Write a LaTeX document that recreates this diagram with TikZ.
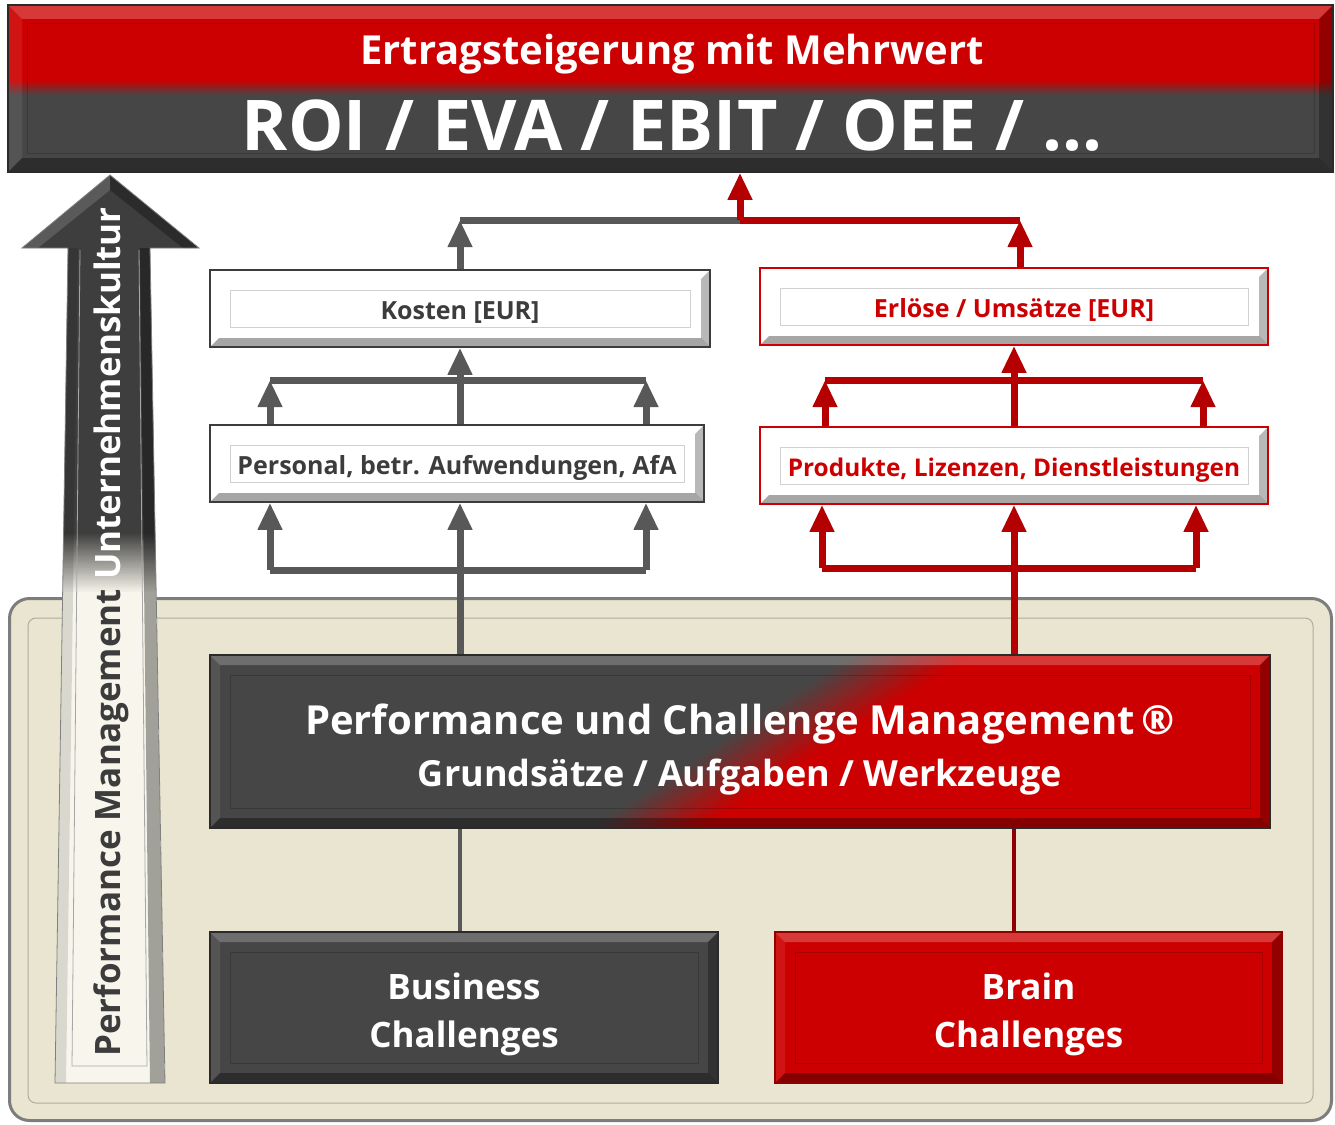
\documentclass[tikz,border=0pt]{standalone}
\usepackage{fontspec}
\setmainfont{Open Sans}
\usetikzlibrary{arrows.meta,calc}
\definecolor{rd}{RGB}{204,0,0}
\definecolor{dg}{RGB}{70,70,70}
\definecolor{beige}{RGB}{234,229,208}
\definecolor{txg}{RGB}{60,60,60}
\definecolor{cg}{RGB}{88,88,88}
\definecolor{cr}{RGB}{180,0,0}
\definecolor{adark}{RGB}{62,62,62}
\definecolor{acream}{RGB}{248,246,236}
\definecolor{pborder}{RGB}{125,125,125}
\newcommand\bvlayer[2]{%
\path (path picture bounding box.north west) coordinate (q1)
      (path picture bounding box.north east) coordinate (q2)
      (path picture bounding box.south east) coordinate (q3)
      (path picture bounding box.south west) coordinate (q4);
\fill[white,opacity=.22] (q1) -- (q2) -- ([shift={(-#1pt,-#1pt)}]q2) -- ([shift={(#1pt,-#1pt)}]q1) -- cycle;
\fill[white,opacity=.08] (q1) -- (q4) -- ([shift={(#1pt,#1pt)}]q4) -- ([shift={(#1pt,-#1pt)}]q1) -- cycle;
\fill[black,opacity=.35] (q4) -- (q3) -- ([shift={(-#1pt,#1pt)}]q3) -- ([shift={(#1pt,#1pt)}]q4) -- cycle;
\fill[black,opacity=.28] (q2) -- (q3) -- ([shift={(-#1pt,#1pt)}]q3) -- ([shift={(-#1pt,-#1pt)}]q2) -- cycle;
\draw[black,opacity=.18,line width=1pt] ([shift={(#2pt,-#2pt)}]q1) rectangle ([shift={(-#2pt,#2pt)}]q3);
}
\begin{document}
\begin{tikzpicture}[x=1pt,y=-1pt,
 wbox/.style={draw=txg, fill=white, line width=1.5pt, inner sep=0pt, text height=23pt, text depth=2pt,
   font=\bfseries\fontsize{25}{28}\selectfont, text=txg, path picture={\bvlayer{9}{20}}},
 wrbox/.style={wbox, draw=rd, text=rd},
 dbox/.style={draw=dg!60!black, fill=dg, line width=1.5pt, inner sep=0pt, align=center,
   text=white, font=\bfseries\fontsize{35}{48}\selectfont, path picture={\bvlayer{10}{20}}},
 rbox/.style={dbox, draw=rd!70!black, fill=rd},
 garr/.style={draw=cg, line width=7pt, -{Triangle[width=23pt,length=27pt]}},
 rarr/.style={garr, draw=cr},
 gbar/.style={draw=cg, line width=7pt, line cap=square},
 rbar/.style={gbar, draw=cr},
 gthin/.style={draw=cg, line width=4pt},
 rthin/.style={draw=cr!80!black, line width=4pt}
]
\useasboundingbox (0,0) rectangle (1335,1124);
\fill[white] (0,0) rectangle (1335,1124);

% background panel
\node[draw=pborder, line width=3pt, fill=beige, rounded corners=20pt,
  minimum width=1322pt, minimum height=522pt, inner sep=0pt] (panel) at (670.5,859.5) {};
\draw[beige!75!black, line width=1pt, rounded corners=8pt] (28,618) rectangle (1313,1103);

% banner (path picture coordinates are relative to the node centre)
\node[draw=dg!60!black, line width=1.5pt, minimum width=1325pt, minimum height=167pt, inner sep=0pt,
 path picture={
   \fill[rd] (-700,-100) rectangle (700,-8.5);
   \fill[dg] (-700,7.5) rectangle (700,100);
   \foreach \i in {0,...,15}{\pgfmathtruncatemacro\pc{100*\i/15}
     \fill[dg!\pc!rd] (-700,-8.5+\i) rectangle (700,-7.3+\i);}
   \bvlayer{14}{19}
 }] (banner) at (670.5,88.5) {};
\node[anchor=base, text=white, font=\bfseries\fontsize{40}{48}\selectfont] (ertrag) at (672,65) {Ertragsteigerung mit Mehrwert};
\node[anchor=base, text=white, font=\bfseries\fontsize{70}{80}\selectfont] (roi) at (672,150) {ROI / EVA / EBIT / OEE / ...};

% big arrow
\begin{scope}
\clip (110,175) -- (199,248) -- (150,248) -- (165,1083) -- (55,1083) -- (68,248) -- (22,248) -- cycle;
\fill[adark] (0,170) rectangle (210,532);
\fill[acream] (0,594) rectangle (210,1090);
\foreach \i in {0,...,30}{\pgfmathtruncatemacro\pc{100*\i/30}
  \fill[acream!\pc!adark] (0,532+2*\i) rectangle (210,534.5+2*\i);}
\fill[black,opacity=.35] (150,248) -- (165,1083) -- (150,1083) -- (140,248) -- cycle;
\fill[black,opacity=.12] (68,248) -- (55,1083) -- (66,1083) -- (78,248) -- cycle;
\fill[white,opacity=.15] (110,175) -- (22,248) -- (38,248) -- (110,190) -- cycle;
\fill[black,opacity=.3] (110,175) -- (199,248) -- (183,248) -- (110,190) -- cycle;
\end{scope}
\draw[gray, line width=.8pt] (110,175) -- (199,248) -- (150,248) -- (165,1083) -- (55,1083) -- (68,248) -- (22,248) -- cycle;
\draw[gray!70, line width=.8pt] (80,250) -- (72,1066) -- (147,1066) -- (139,250);
\node[rotate=90, font=\bfseries\fontsize{35}{40}\selectfont] (pmtext) at (111,632)
  {\textcolor{txg}{Performance Management} \textcolor{white}{Unternehmenskultur}};

% boxes
\node[wbox, minimum width=500pt, minimum height=77pt] (kost) at (460,308.5) {Kosten [EUR]};
\node[wbox, minimum width=494pt, minimum height=77pt] (pers) at (457,463.5) {Personal, betr. Aufwendungen, AfA};
\node[wrbox, minimum width=508pt, minimum height=77pt] (erl) at (1014,306.5) {Erlöse / Umsätze [EUR]};
\node[wrbox, minimum width=508pt, minimum height=77pt, font=\bfseries\fontsize{24.4}{28}\selectfont] (prod) at (1014,465.5) {Produkte, Lizenzen, Dienstleistungen};

% diagonal grey-to-red fill of the central box
\fill[dg] (210,655) rectangle (1270,828);
\fill[rd] (970,655) -- (1270,655) -- (1270,828) -- (700,828) -- cycle;
\foreach \i in {0,...,23}{\pgfmathtruncatemacro\pc{100*(\i+0.5)/24}
  \fill[rd!\pc!dg] (850+5*\i,655) -- (856+5*\i,655) -- (595.6+4.58*\i,828) -- (590+4.58*\i,828) -- cycle;}
\node[dbox, fill=none, minimum width=1060pt, minimum height=173pt] (pcm) at (740,741.5) {};
\node[align=center, text=white, font=\bfseries, inner sep=0pt] (pcmtext) at ([yshift=-8pt]pcm.center)
 {\fontsize{40}{46}\selectfont Performance und Challenge Management\,®\\[13pt]
  \fontsize{36}{44}\selectfont Grundsätze / Aufgaben / Werkzeuge};

\node[dbox, minimum width=508pt, minimum height=151pt, text height=82pt, text depth=2pt] (bus) at (464,1007.5) {Business\\Challenges};
\node[rbox, minimum width=507pt, minimum height=151pt, text height=82pt, text depth=2pt] (brain) at (1028.5,1007.5) {Brain\\Challenges};

% junction coordinates
\coordinate (jg) at (460,220);
\coordinate (jm) at (740,220);
\coordinate (jr) at (1020,220);
\coordinate (gL1) at (270,380);
\coordinate (gR1) at (646,380);
\coordinate (gL2) at (270,570);
\coordinate (gR2) at (646,570);
\coordinate (rL1) at (825,380);
\coordinate (rR1) at (1203,380);
\coordinate (rL2) at (822,568);
\coordinate (rR2) at (1196,568);

% gray connectors
\draw[gbar] (gL2) -- (gR2);
\draw[garr] (gL2) -- (gL2 |- pers.south);
\draw[garr] (gR2) -- (gR2 |- pers.south);
\draw[garr] (kost.south |- pcm.north) -- (kost.south |- pers.south);
\draw[gbar] (gL1) -- (gR1);
\draw[garr] (gL1 |- pers.north) -- (gL1);
\draw[garr] (gR1 |- pers.north) -- (gR1);
\draw[garr] (kost.south |- pers.north) -- (kost.south);
\draw[garr] (kost.north) -- (jg);
\draw[gbar] (jg) -- (jm);

% red connectors
\draw[rbar] (rL2) -- (rR2);
\draw[rarr] (rL2) -- (rL2 |- prod.south);
\draw[rarr] (rR2) -- (rR2 |- prod.south);
\draw[rarr] (pcm.north -| prod.south) -- (prod.south);
\draw[rbar] (rL1) -- (rR1);
\draw[rarr] (rL1 |- prod.north) -- (rL1);
\draw[rarr] (rR1 |- prod.north) -- (rR1);
\draw[rarr] (prod.north) -- (erl.south);
\draw[rarr] (jr |- erl.north) -- (jr);
\draw[rbar] (jm) -- (jr);
\draw[rarr] (jm) -- (jm |- banner.south);

% bottom links
\draw[gthin] (pcm.south -| jg) -- (bus.north -| jg);
\draw[rthin] (pcm.south -| prod.south) -- (brain.north -| prod.south);
\end{tikzpicture}
\end{document}
